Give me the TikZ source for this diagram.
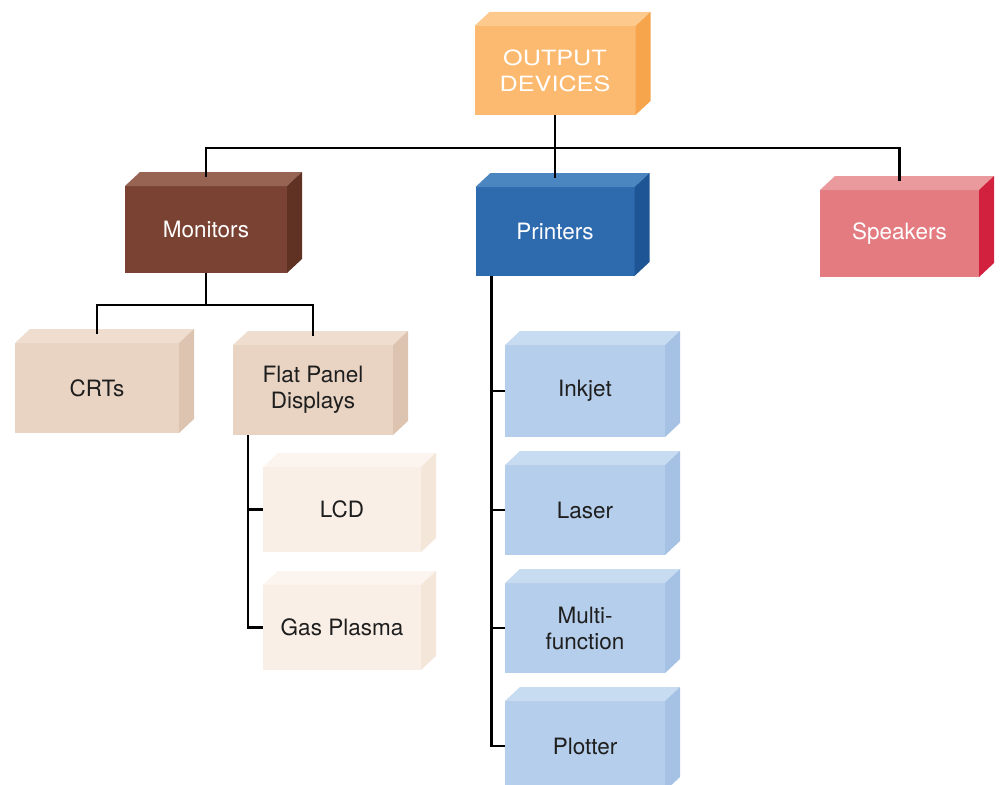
\documentclass[tikz,border=0pt]{standalone}
\usepackage{fontspec}
\setmainfont{TeX Gyre Heros}
\newfontfamily\widefont[FakeStretch=1.2]{TeX Gyre Heros}
\usetikzlibrary{calc}

% face colours: F = front, T = top, S = right side
\definecolor{orF}{HTML}{FCBA70}\definecolor{orT}{HTML}{FDC98C}\definecolor{orS}{HTML}{F6A54C}
\definecolor{brF}{HTML}{7A4232}\definecolor{brT}{HTML}{976353}\definecolor{brS}{HTML}{603224}
\definecolor{blF}{HTML}{2E6BAE}\definecolor{blT}{HTML}{4C86C1}\definecolor{blS}{HTML}{1E5595}
\definecolor{rdF}{HTML}{E37B80}\definecolor{rdT}{HTML}{EA9A9C}\definecolor{rdS}{HTML}{D2213E}
\definecolor{tnF}{HTML}{E9D4C3}\definecolor{tnT}{HTML}{EFDDCF}\definecolor{tnS}{HTML}{DDC4B0}
\definecolor{lbF}{HTML}{B5CEEB}\definecolor{lbT}{HTML}{C7DBF1}\definecolor{lbS}{HTML}{A5C1E4}
\definecolor{pmF}{HTML}{FAEFE7}\definecolor{pmT}{HTML}{FCF4EE}\definecolor{pmS}{HTML}{F5E6DA}
\definecolor{txtD}{HTML}{1E1E1E}

\newcommand\cubedx{15}
\newcommand\cubedy{-14}

% a 3-D block: name, centre x, centre y, width, height, colour prefix, text colour, text
\newcommand\cuboid[8]{%
  \node[face, fill=#6F, text=#7, minimum width=#4pt, minimum height=#5pt] (#1) at (#2,#3) {#8};
  \fill[#6T] (#1.north west) -- ++(\cubedx,\cubedy) -- ($(#1.north east)+(\cubedx,\cubedy)$)
             -- (#1.north east) -- cycle;
  \fill[#6S] (#1.north east) -- ++(\cubedx,\cubedy) -- ($(#1.south east)+(\cubedx,\cubedy)$)
             -- (#1.south east) -- cycle;
  \coordinate (#1-t) at ($(#1.north)+(0,-9)$);
}

\newcommand\headfont{\fontsize{21}{24}\widefont}

\tikzset{
  face/.style={inner sep=0pt, outer sep=0pt, align=center,
               font=\fontsize{22.5}{26}\selectfont},
  link/.style={line width=2.6pt, draw=black, line join=miter},
}

\begin{document}
\begin{tikzpicture}[x=1pt,y=-1pt]
  \fill[white] (0,0) rectangle (1003,784);
  \useasboundingbox (0,0) rectangle (1003,784);

  % top level
  \cuboid{out}{555}{70.5}{161}{89}{or}{white}{\headfont OUTPUT\\\headfont DEVICES}

  % second level
  \cuboid{mon}{206}{229.5}{162}{87}{br}{white}{Monitors}
  \cuboid{prn}{555}{231.5}{159}{89}{bl}{white}{Printers}
  \cuboid{spk}{899.5}{233.5}{159}{87}{rd}{white}{Speakers}

  % monitor types
  \cuboid{crt}{97}{388}{164}{90}{tn}{txtD}{CRTs}
  \cuboid{fpd}{313}{390}{160}{90}{tn}{txtD}{Flat Panel\\Displays}
  \cuboid{lcd}{342}{509.5}{158}{85}{pm}{txtD}{LCD}
  \cuboid{gas}{342}{627.5}{158}{85}{pm}{txtD}{Gas Plasma}

  % printer types
  \cuboid{ink}{585}{391}{160}{92}{lb}{txtD}{Inkjet}
  \cuboid{las}{585}{510}{160}{90}{lb}{txtD}{Laser}
  \cuboid{mul}{585}{628}{160}{90}{lb}{txtD}{Multi-\\function}
  \cuboid{plt}{585}{746}{160}{90}{lb}{txtD}{Plotter}

  % connectors
  \draw[link] (out.south) -- ($(out.south)+(0,33)$) coordinate (busO);
  \draw[link] (mon-t) |- (busO) -| (spk-t);
  \draw[link] (busO) -- (prn-t);

  \draw[link] (mon.south) -- ($(mon.south)+(0,32)$) coordinate (busM);
  \draw[link] (crt-t) |- (busM) -| (fpd-t);

  \coordinate (fpdL) at ($(fpd.south west)+(15,0)$);
  \draw[link] (fpdL) |- (gas.west);
  \draw[link] (lcd.west) -- (lcd.west -| fpdL);

  \coordinate (prnL) at ($(prn.south west)+(16,0)$);
  \draw[link] (prnL) |- (plt.west);
  \draw[link] (ink.west) -- (ink.west -| prnL);
  \draw[link] (las.west) -- (las.west -| prnL);
  \draw[link] (mul.west) -- (mul.west -| prnL);
\end{tikzpicture}
\end{document}
